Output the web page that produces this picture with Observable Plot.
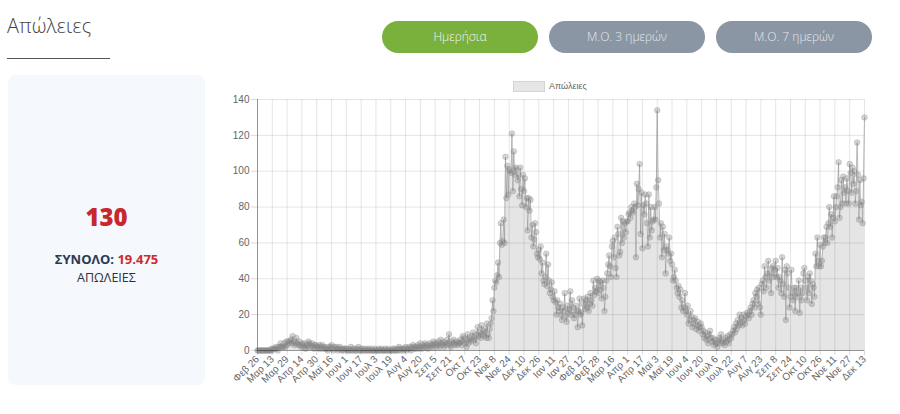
<!DOCTYPE html>
<html>
<head>
<meta charset="utf-8">
<script src="https://cdn.jsdelivr.net/npm/d3@7"></script>
<script src="https://cdn.jsdelivr.net/npm/@observablehq/plot@0.6"></script>
<style>
  html, body { margin: 0; padding: 0; background: #fff; }
  #page { position: relative; width: 900px; height: 414px; overflow: hidden; font-family: "Open Sans", "Liberation Sans", sans-serif; }
  #title { position: absolute; left: 7px; top: 12px; font-size: 20px; font-weight: 300; color: #444; letter-spacing: 0.2px; }
  #underline { position: absolute; left: 7px; top: 58px; width: 103px; height: 1px; background: #555; }
  #card { position: absolute; left: 8px; top: 75px; width: 197px; height: 310px; background: #f5f8fc; border-radius: 8px; text-align: center; }
  #big { position: absolute; left: 0; right: 0; top: 125px; font-size: 24px; font-weight: 800; color: #c8282d; }
  #total { position: absolute; left: 0; right: 0; top: 175px; font-size: 13px; font-weight: 700; color: #2b3a4f; }
  #total span { color: #cf2a2a; }
  #lab { position: absolute; left: 0; right: 0; top: 194px; font-size: 12.5px; color: #333; }
  .btn { position: absolute; top: 21px; width: 156px; height: 32px; border-radius: 16px; color: #f3f6f0; font-size: 12px; line-height: 32px; text-align: center; font-weight: 300; }
  #b1 { left: 382px; background: #79b13c; }
  #b2 { left: 549px; background: #8a96a4; color: #e4e8ec; }
  #b3 { left: 716px; background: #8a96a4; color: #e4e8ec; }
  #legend { position: absolute; left: 513px; top: 81px; font-family: "Liberation Sans", Arial, sans-serif; font-size: 9px; color: #666; }
  #legend .box { display: inline-block; width: 30px; height: 9px; background: #e6e6e6; border: 1px solid #d4d4d4; vertical-align: middle; margin-right: 4px; }
  #chart { position: absolute; left: 215px; top: 95px; }
</style>
</head>
<body>
<div id="page">
  <div id="title">Απώλειες</div>
  <div id="underline"></div>
  <div id="card">
    <div id="big">130</div>
    <div id="total">ΣΥΝΟΛΟ: <span>19.475</span></div>
    <div id="lab">ΑΠΩΛΕΙΕΣ</div>
  </div>
  <div class="btn" id="b1">Ημερήσια</div>
  <div class="btn" id="b2">Μ.Ο. 3 ημερών</div>
  <div class="btn" id="b3">Μ.Ο. 7 ημερών</div>
  <div id="legend"><span class="box"></span>Απώλειες</div>
  <div id="chart"></div>
</div>
<script>
// Daily deaths, 26 Feb 2020 – 13 Dec 2021
const feb2020 = [0,0,0,0];
const mar2020 = [0,0,0,0,0,0,0,0,0,0,0,1,0,1,1,1,2,1,0,2,2,4,2,2,2,4,2,5,3,5,4];
const apr2020 = [5,6,4,8,5,3,4,7,4,3,5,3,2,4,3,2,4,1,3,2,5,4,2,3,4,2,1,3,3,2];
const may2020 = [2,1,3,2,1,3,2,1,2,1,1,0,2,1,2,3,1,0,2,1,2,1,0,1,2,1,0,1,0,1,1];
const jun2020 = [1,0,0,1,0,2,0,1,0,1,0,0,1,2,0,0,1,0,1,0,0,1,0,0,1,0,0,1,0,0];
const jul2020 = [0,1,0,0,0,1,0,0,1,0,0,0,1,0,0,1,0,0,0,0,1,0,1,0,0,1,0,2,1,0,1];
const aug2020 = [1,0,1,2,0,1,1,2,1,0,2,3,1,2,1,2,3,1,2,4,2,1,3,2,4,3,2,1,3,4,2];
const sep2020 = [3,2,5,4,3,2,4,5,3,2,6,4,3,5,2,4,3,6,4,9,3,2,5,4,6,3,4,5,3,4];
const oct2020 = [4,6,5,3,8,7,4,6,2,9,4,7,6,5,8,10,6,7,4,9,13,8,10,7,14,9,11,8,12,7,15];
const nov2020 = [9,7,12,15,18,28,22,35,39,38,42,49,41,60,71,59,61,73,60,108,85,103,87,101,100,99,121,89,111,98];
const dec2020 = [102,101,95,98,86,102,90,81,98,89,96,80,85,67,85,78,84,63,70,58,62,71,66,54,52,56,51,58,43,49,39];
const jan2021 = [37,41,54,36,48,39,32,34,38,30,28,33,27,20,28,24,22,26,20,17,24,22,32,19,16,25,21,23,33,20,28];
const feb2021 = [24,18,20,25,22,13,22,29,20,21,14,26,29,23,28,24,30,22,26,32,28,25,39,31,35,33,40,32];
const mar2021 = [39,34,38,29,39,35,22,30,39,43,48,53,47,41,58,61,52,63,46,41,69,65,53,55,74,60,72,63,71,66,72];
const apr2021 = [72,76,77,74,80,78,77,82,80,52,93,81,90,104,65,88,57,81,76,87,82,71,58,87,63,80,67,72,73,80];
const may2021 = [73,91,134,95,82,63,71,52,69,56,65,43,58,56,54,63,50,54,48,39,41,45,39,35,32,36,30,34,24,28,22];
const jun2021 = [24,32,22,20,25,15,17,22,19,13,15,17,18,12,14,16,11,13,15,13,9,11,7,10,6,8,4,9,11,7];
const jul2021 = [5,7,3,6,4,4,2,6,7,4,9,5,4,6,3,7,5,8,4,6,9,7,9,11,13,10,15,12,17,14,20];
const aug2021 = [15,18,14,20,17,15,19,21,20,18,22,24,20,26,28,24,32,30,34,26,35,24,20,37,39,33,47,41,35,43,50];
const sep2021 = [39,43,32,46,47,41,45,50,41,46,35,41,39,32,52,37,30,45,17,47,43,35,24,30,45,32,28,35,22,35];
const oct2021 = [30,32,39,21,35,28,32,43,46,39,35,28,41,32,43,39,26,37,35,30,54,47,63,50,47,59,47,50,58,63,60];
const nov2021 = [63,69,60,71,80,69,76,63,74,86,72,80,86,91,105,74,80,95,82,97,88,91,82,96,89,82,104,99,88,102];
const dec2021 = [93,100,82,89,116,98,73,95,81,83,71,96,130];

// x-axis tick labels (every 16th day)
const tickLabels = ["Φεβ 26","Μαρ 13","Μαρ 29","Απρ 14","Απρ 30","Μαϊ 16","Ιουν 1","Ιουν 17","Ιουλ 3","Ιουλ 19","Αυγ 4","Αυγ 20","Σεπ 5","Σεπ 21","Οκτ 7","Οκτ 23","Νοε 8","Νοε 24","Δεκ 10","Δεκ 26","Ιαν 11","Ιαν 27","Φεβ 12","Φεβ 28","Μαρ 16","Απρ 1","Απρ 17","Μαϊ 3","Μαϊ 19","Ιουν 4","Ιουν 20","Ιουλ 6","Ιουλ 22","Αυγ 7","Αυγ 23","Σεπ 8","Σεπ 24","Οκτ 10","Οκτ 26","Νοε 11","Νοε 27","Δεκ 13"];
const tickStep = 16;
const yTicks = [0,20,40,60,80,100,120,140];

const values = [].concat(feb2020, mar2020, apr2020, may2020, jun2020, jul2020, aug2020, sep2020, oct2020, nov2020, dec2020,
  jan2021, feb2021, mar2021, apr2021, may2021, jun2021, jul2021, aug2021, sep2021, oct2021, nov2021, dec2021);
const data = values.map((v, i) => ({i, v}));
const xTicks = tickLabels.map((_, k) => k * tickStep);
const labelAt = new Map(xTicks.map((t, k) => [t, tickLabels[k]]));

const chart = Plot.plot({
  width: 670,
  height: 319,
  marginLeft: 42,
  marginRight: 21,
  marginTop: 4,
  marginBottom: 64,
  style: {fontFamily: "'Liberation Sans', Arial, sans-serif", fontSize: "10px", color: "#666", background: "transparent"},
  x: {domain: [0, values.length - 1]},
  y: {domain: [0, 140]},
  marks: [
    Plot.gridX(xTicks, {stroke: "#000", strokeOpacity: 0.1}),
    Plot.gridY(yTicks, {stroke: "#000", strokeOpacity: 0.1}),
    Plot.areaY(data, {x: "i", y: "v", fill: "#000", fillOpacity: 0.1}),
    Plot.lineY(data, {x: "i", y: "v", stroke: "#888", strokeOpacity: 0.55, strokeWidth: 1}),
    Plot.dot(data, {x: "i", y: "v", r: 2.8, fill: "#777", fillOpacity: 0.3, stroke: "#999", strokeOpacity: 0.4, strokeWidth: 1}),
    Plot.ruleX([0], {stroke: "#000", strokeOpacity: 0.35}),
    Plot.ruleY([0], {stroke: "#000", strokeOpacity: 0.35}),
    Plot.axisY(yTicks, {tickSize: 6, tickPadding: 2, label: null, stroke: "#000", strokeOpacity: 0.15, fill: "#666"}),
    Plot.axisX(xTicks, {tickSize: 5, tickPadding: 2, tickRotate: -45, label: null, tickFormat: d => labelAt.get(d), stroke: "#000", strokeOpacity: 0.15, fill: "#666"})
  ]
});
document.getElementById("chart").appendChild(chart);
</script>
</body>
</html>
